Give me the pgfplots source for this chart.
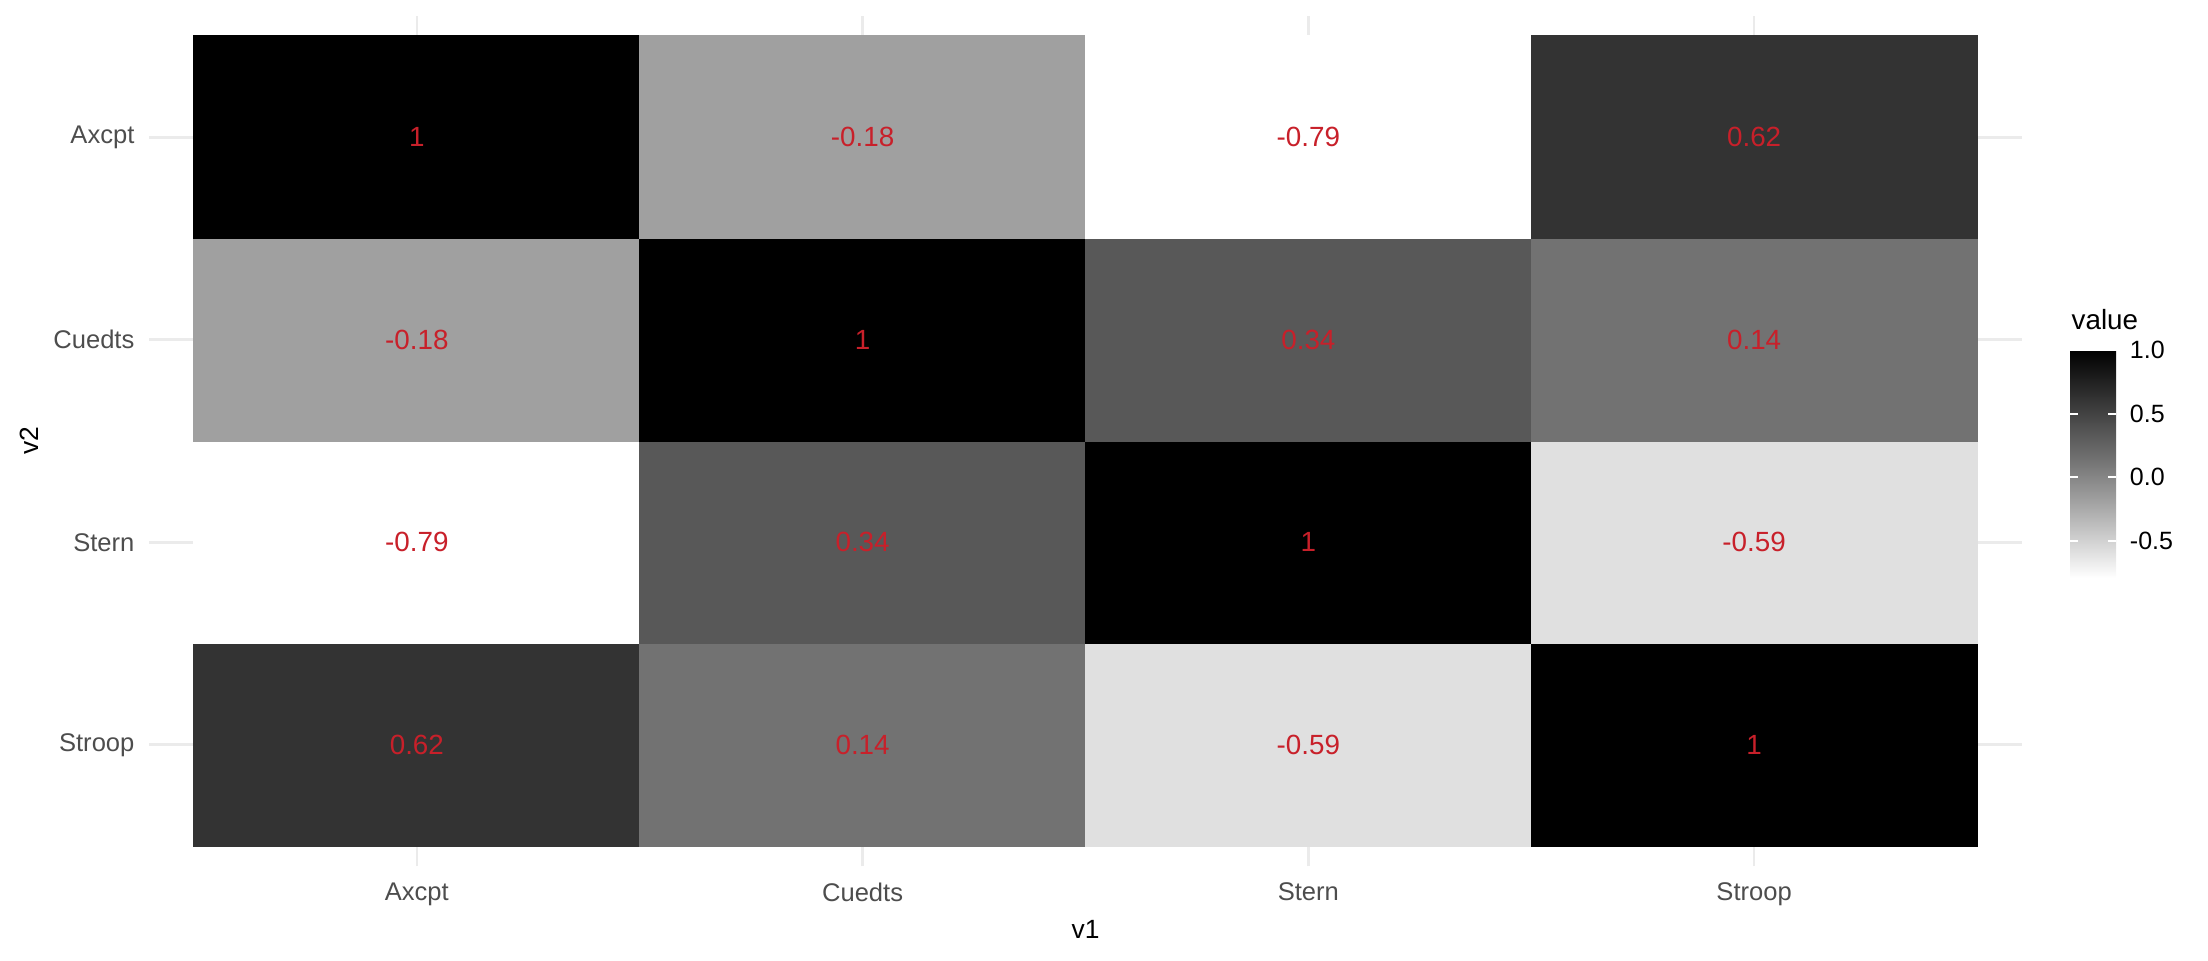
\documentclass[border=0pt]{standalone}
\usepackage{pgfplots}
\pgfplotsset{compat=1.18}
\usepackage{fontspec}
\setmainfont{Liberation Sans}
\definecolor{txtred}{HTML}{C8202A}
\definecolor{gridc}{HTML}{EBEBEB}
\definecolor{tickc}{HTML}{4D4D4D}
\begin{document}
\begin{tikzpicture}
\path[use as bounding box] (0,0) rectangle (794.88pt,345.6pt);
\begin{axis}[
  at={(53.78pt,33.75pt)}, anchor=south west,
  scale only axis, width=673.99pt, height=306.18pt,
  xmin=0.4, xmax=4.6, ymin=0.4, ymax=4.6,
  xtick={1,2,3,4}, xticklabels={Axcpt,Cuedts,Stern,Stroop},
  ytick={1,2,3,4}, yticklabels={Stroop,Stern,Cuedts,Axcpt},
  grid=major, major grid style={gridc, line width=0.97pt},
  axis line style={draw=none}, major tick length=0pt, tick style={draw=none},
  xticklabel style={font=\fontsize{9.2}{11}\selectfont, text=tickc, inner sep=0pt, anchor=north, yshift=-5.7pt},
  yticklabel style={font=\fontsize{9.2}{11}\selectfont, text=tickc, inner sep=0pt, anchor=east, xshift=-5.2pt},
  xlabel={v1}, ylabel={v2},
  xlabel style={font=\fontsize{9.5}{11}\selectfont, at={(axis description cs:0.5,-0.0738)}, anchor=center, inner sep=0pt},
  ylabel style={font=\fontsize{9.5}{11}\selectfont, at={(axis description cs:-0.0643,0.5)}, anchor=center, inner sep=0pt},
  colormap={ggg}{rgb255(0pt)=(255,255,255) rgb255(20pt)=(224,224,224) rgb255(61pt)=(160,160,160) rgb255(93pt)=(114,114,114) rgb255(113pt)=(88,88,88) rgb255(141pt)=(51,51,51) rgb255(179pt)=(0,0,0)},
  point meta min=-0.79, point meta max=1,
  colorbar,
  colorbar/width=16.56pt,
  colorbar style={
    at={(parent axis.north east)}, anchor=north west,
    xshift=8.9pt, yshift=-120.33pt,
    scale only axis, height=82.08pt,
    axis line style={draw=none}, grid=none,
    xtick=\empty,
    ytick={-0.5,0,0.5,1}, yticklabels={-0.5,0.0,0.5,1.0},
    ytick pos=both, yticklabel pos=right,
    tick align=inside, major tick length=3pt,
    ytick style={draw=white, line width=0.8pt},
    yticklabel style={font=\fontsize{9}{11}\selectfont, text=black, inner sep=0pt, anchor=west, xshift=4.8pt},
  },
]
\addplot[matrix plot*, draw=none, mesh/cols=4, point meta=explicit] table[meta=c]{
x y c
1 1 0.62
2 1 0.14
3 1 -0.59
4 1 1
1 2 -0.79
2 2 0.34
3 2 1
4 2 -0.59
1 3 -0.18
2 3 1
3 3 0.34
4 3 0.14
1 4 1
2 4 -0.18
3 4 -0.79
4 4 0.62
};
\addplot[draw=none, mark=none, nodes near coords, point meta=explicit symbolic,
  nodes near coords style={text=txtred, font=\fontsize{10}{12}\selectfont, anchor=center, inner sep=0pt}]
  table[meta=l]{
x y l
1 1 0.62
2 1 0.14
3 1 -0.59
4 1 1
1 2 -0.79
2 2 0.34
3 2 1
4 2 -0.59
1 3 -0.18
2 3 1
3 3 0.34
4 3 0.14
1 4 1
2 4 -0.18
3 4 -0.79
4 4 0.62
};
\end{axis}
\node[anchor=base west, inner sep=0pt, font=\fontsize{10}{12}\selectfont] at (745.6pt,226.8pt) {value};
\end{tikzpicture}
\end{document}
